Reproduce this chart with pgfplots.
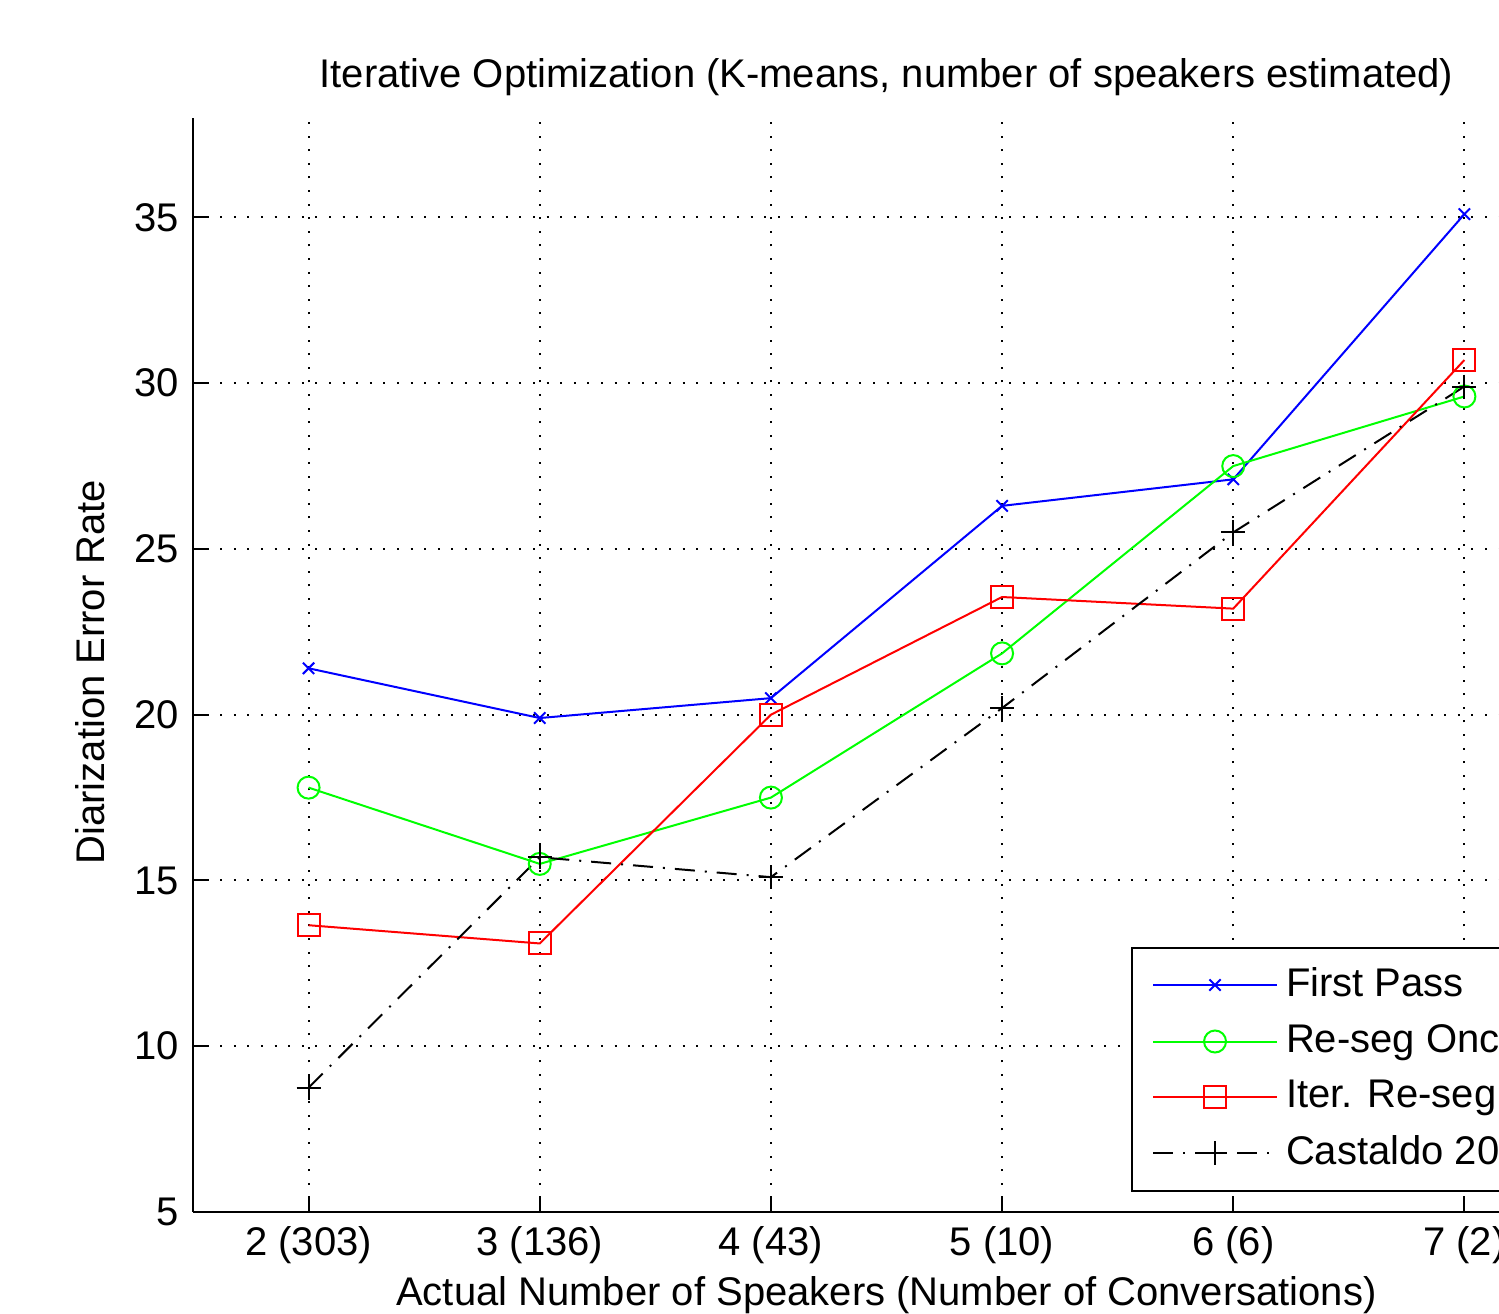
\documentclass[border=0pt]{standalone}
\usepackage{fontspec}
\setmainfont{Liberation Sans}
\usepackage{pgfplots}
\pgfplotsset{compat=1.18}

\begin{document}
\begin{tikzpicture}
\useasboundingbox (-48.25pt,-25.5pt) rectangle (326.5pt,303pt);
\clip (-48.25pt,-25.5pt) rectangle (326.5pt,303pt);
\begin{axis}[
  at={(0pt,0pt)}, anchor=south west,
  scale only axis, width=346.75pt, height=273.5pt,
  xmin=1.5, xmax=7.5, ymin=5, ymax=38,
  axis x line*=bottom, axis y line*=left,
  axis line style={line width=0.5pt},
  xtick={2,3,4,5,6,7},
  xticklabels={2 (303),3 (136),4 (43),5 (10),6 (6),7 (2)},
  ytick={5,10,15,20,25,30,35},
  /pgf/number format/assume math mode=true,
  tick align=inside,
  major tick length=4pt,
  tick style={black, line width=0.5pt},
  grid=major,
  major grid style={black, line width=0.5pt, dash pattern=on 0.5pt off 2.9pt},
  ticklabel style={font=\fontsize{10}{12}\selectfont},
  title={Iterative Optimization (K-means, number of speakers estimated)},
  title style={at={(axis description cs:0.5,1.0156)}, anchor=center, font=\fontsize{10}{12}\selectfont},
  xlabel={Actual Number of Speakers (Number of Conversations)},
  xlabel style={at={(axis description cs:0.5,-0.0759)}, anchor=center, font=\fontsize{10}{12}\selectfont},
  ylabel={Diarization Error Rate},
  ylabel style={at={(axis description cs:-0.0743,0.4935)}, anchor=center, font=\fontsize{10}{12}\selectfont},
  legend style={at={(axis description cs:0.6763,0.0183)}, anchor=south west, draw=black, line width=0.5pt,
    font=\fontsize{10}{12}\selectfont, row sep=1.5pt, inner xsep=5pt, inner ysep=3pt},
  legend cell align=left,
  legend image code/.code={\draw[mark repeat=2,mark phase=2,#1] plot coordinates {(0pt,0pt) (15.5pt,0pt) (31pt,0pt)};},
]
\addplot[blue, line width=0.5pt, mark=x, mark size=2pt, mark options={solid}] coordinates {
  (2,21.4) (3,19.9) (4,20.5) (5,26.3) (6,27.1) (7,35.1)};
\addlegendentry{First Pass}
\addplot[green, line width=0.5pt, mark=o, mark size=2.75pt, mark options={solid}] coordinates {
  (2,17.8) (3,15.5) (4,17.5) (5,21.85) (6,27.5) (7,29.6)};
\addlegendentry{Re-seg Once}
\addplot[red, line width=0.5pt, mark=square, mark size=2.75pt, mark options={solid}] coordinates {
  (2,13.65) (3,13.1) (4,20.0) (5,23.55) (6,23.2) (7,30.7)};
\addlegendentry{Iter. Re-seg}
\addplot[black, line width=0.5pt, dash pattern=on 5pt off 2.5pt on 0.5pt off 2.5pt, mark=+, mark size=3pt, mark options={solid}] coordinates {
  (2,8.75) (3,15.7) (4,15.1) (5,20.2) (6,25.5) (7,29.9)};
\addlegendentry{Castaldo 2008}
\end{axis}
\end{tikzpicture}
\end{document}
